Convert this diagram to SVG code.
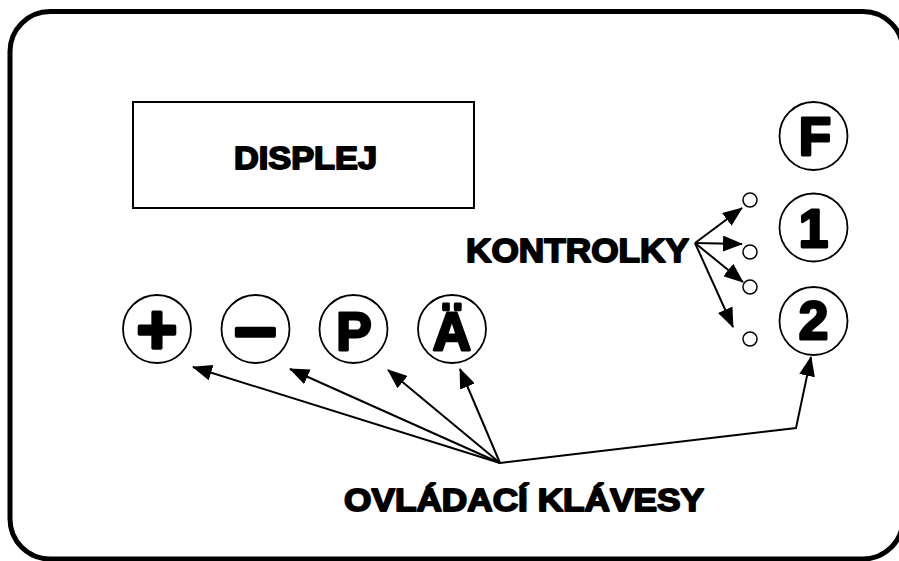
<svg xmlns="http://www.w3.org/2000/svg" width="899" height="561" viewBox="0 0 899 561">
<defs>
<marker id="ah" viewBox="0 0 20 16" refX="19" refY="8" markerWidth="20" markerHeight="16" markerUnits="userSpaceOnUse" orient="auto">
<path d="M0,0 L20,8 L0,16 z" fill="#000"/>
</marker>
</defs>
<style>
.lbl{font-family:"Liberation Sans",Arial,sans-serif;font-weight:bold;fill:#000;stroke:#000;stroke-width:1.8;stroke-linejoin:round;}
.key{font-family:"Liberation Sans",Arial,sans-serif;font-weight:bold;font-size:53px;fill:#000;stroke:#000;stroke-width:2.8;stroke-linejoin:round;text-anchor:middle;}
.btn{fill:#fff;stroke:#000;stroke-width:1.8;}
.led{fill:#fff;stroke:#000;stroke-width:1.5;}
.con{fill:none;stroke:#000;stroke-width:2;}
</style>
<rect x="10" y="11.5" width="893" height="547.5" rx="40" ry="40" fill="#fff" stroke="#000" stroke-width="5"/>
<g id="displej">
<rect x="133" y="102" width="341" height="106" fill="#fff" stroke="#000" stroke-width="2"/>
<text class="lbl" x="234" y="169" font-size="31" textLength="143" lengthAdjust="spacingAndGlyphs">DISPLEJ</text>
</g>
<g id="key-plus"><circle class="btn" cx="157" cy="329" r="34"/><text class="key" x="157" y="354" style="font-size:70px;stroke-width:3.5px">+</text></g>
<g id="key-minus"><circle class="btn" cx="255.5" cy="329" r="34"/><text class="key" x="255.5" y="353" style="font-size:76px;stroke-width:3.5px">–</text></g>
<g id="key-p"><circle class="btn" cx="353.5" cy="329" r="34"/><text class="key" x="354" y="350">P</text></g>
<g id="key-a"><circle class="btn" cx="452" cy="329" r="34"/><text class="key" x="452" y="350">Ä</text></g>
<g id="key-f"><circle class="btn" cx="813.5" cy="136" r="34"/><text class="key" x="815" y="155">F</text></g>
<g id="key-1"><circle class="btn" cx="813.5" cy="227.5" r="34"/><text class="key" x="813.5" y="247">1</text></g>
<g id="key-2"><circle class="btn" cx="813.5" cy="321" r="34"/><text class="key" x="813.5" y="339">2</text></g>
<g id="leds">
<circle class="led" cx="750" cy="200" r="7"/>
<circle class="led" cx="750" cy="252" r="7"/>
<circle class="led" cx="750" cy="287" r="7"/>
<circle class="led" cx="750" cy="339" r="7"/>
</g>
<g id="kontrolky">
<text class="lbl" x="466" y="262" font-size="33" textLength="223" lengthAdjust="spacingAndGlyphs">KONTROLKY</text>
</g>
<g id="ovladaci">
<text class="lbl" x="344" y="511" font-size="31" textLength="360" lengthAdjust="spacingAndGlyphs">OVLÁDACÍ KLÁVESY</text>
</g>
<g id="connectors">
<line class="con" x1="695" y1="243" x2="742" y2="208" marker-end="url(#ah)"/>
<line class="con" x1="695" y1="243" x2="742" y2="244" marker-end="url(#ah)"/>
<line class="con" x1="695" y1="243" x2="743" y2="282" marker-end="url(#ah)"/>
<line class="con" x1="695" y1="243" x2="733" y2="327" marker-end="url(#ah)"/>
<line class="con" x1="500" y1="463" x2="193" y2="367" marker-end="url(#ah)"/>
<line class="con" x1="500" y1="463" x2="290" y2="369" marker-end="url(#ah)"/>
<line class="con" x1="500" y1="463" x2="388" y2="370" marker-end="url(#ah)"/>
<line class="con" x1="500" y1="463" x2="460" y2="369" marker-end="url(#ah)"/>
<polyline class="con" points="500,463 796,428 811,357" marker-end="url(#ah)"/>
</g>
</svg>
